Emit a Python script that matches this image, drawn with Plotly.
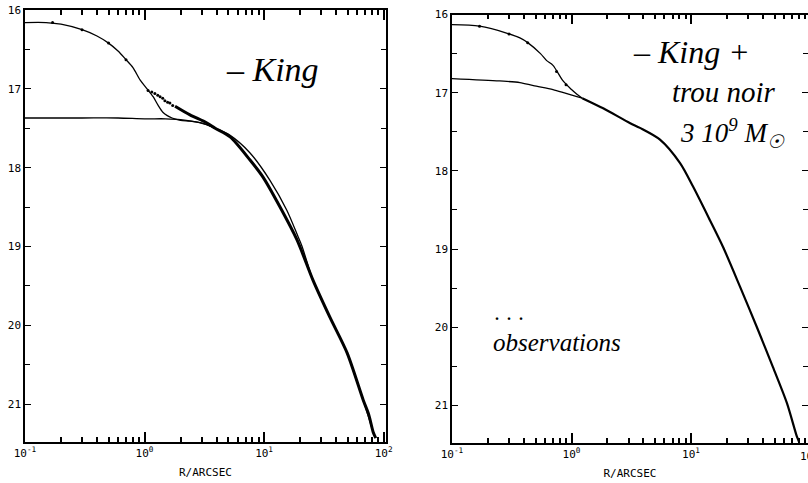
import plotly.graph_objects as go

# ---------------- data ----------------
# Left panel ("King")
left_core_r = [0.1, 0.15, 0.2, 0.3, 0.4, 0.5, 0.6, 0.7, 0.8, 0.92, 1.05, 1.18, 1.3, 1.43, 1.55, 1.7, 2.0, 2.4, 2.9, 3.4, 3.9]
left_core_mu = [16.16, 16.16, 16.18, 16.25, 16.33, 16.42, 16.52, 16.63, 16.73, 16.89, 17.0, 17.1, 17.21, 17.3, 17.34, 17.37, 17.40, 17.41, 17.43, 17.46, 17.5]

left_king_r = [0.1, 0.3, 0.6, 1.0, 1.5, 2.0, 2.9, 3.9, 5.2, 7.6, 11.2, 15.5, 19.3, 20.8, 25.7, 35.6, 49.5, 67.6, 82]
left_king_mu = [17.37, 17.37, 17.37, 17.38, 17.38, 17.39, 17.43, 17.5, 17.59, 17.81, 18.16, 18.54, 18.88, 19.0, 19.43, 19.9, 20.35, 20.95, 21.36]

left_obs_line_r = [1.8, 2.4, 3.3, 3.9, 5.2, 7.6, 9.8, 13.6, 18.9, 25.7, 35.6, 49.5, 67.6, 75, 82, 86]
left_obs_line_mu = [17.22, 17.33, 17.43, 17.5, 17.61, 17.9, 18.12, 18.5, 18.92, 19.43, 19.9, 20.35, 20.95, 21.13, 21.36, 21.43]

left_obs_dot_r = [0.17, 0.3, 0.5, 0.7, 1.07, 1.15, 1.22, 1.29, 1.35, 1.42, 1.48, 1.56, 1.63, 1.72]
left_obs_dot_mu = [16.16, 16.25, 16.42, 16.63, 17.02, 17.04, 17.06, 17.08, 17.1, 17.12, 17.15, 17.17, 17.18, 17.21]

# Right panel ("King + trou noir 3 10^9 Msun")
right_bh_r = [0.1, 0.17, 0.29, 0.37, 0.43, 0.55, 0.62, 0.7, 0.85, 1.0, 1.11, 1.23]
right_bh_mu = [16.13, 16.15, 16.24, 16.30, 16.36, 16.5, 16.59, 16.65, 16.85, 16.96, 17.02, 17.07]

right_king_r = [0.1, 0.25, 0.37, 0.48, 0.7, 0.9, 1.11, 1.23]
right_king_mu = [16.82, 16.85, 16.87, 16.91, 16.96, 17.01, 17.05, 17.07]

right_common_r = [1.23, 1.84, 3.1, 3.74, 5.5, 8.1, 10.4, 14.4, 18.5, 25.7, 35.6, 48.5, 63.5, 77, 80]
right_common_mu = [17.07, 17.2, 17.39, 17.45, 17.6, 17.9, 18.2, 18.63, 18.97, 19.48, 20.0, 20.51, 20.97, 21.4, 21.46]

right_obs_dot_r = [0.17, 0.3, 0.43, 0.75, 0.9]
right_obs_dot_mu = [16.15, 16.25, 16.36, 16.73, 16.9]

x_label_alias = {"0.1": "10<sup>-1</sup>", "1": "10<sup>0</sup>", "10": "10<sup>1</sup>", "100": "10<sup>2</sup>"}
y_tickvals = [16, 17, 18, 19, 20, 21]
y_ticktext = ["16", "17", "18", "19", "20", "21"]
y_range = [21.48, 16]

# ---------------- figure ----------------
W, H = 808, 483
fig = go.Figure()

thin = dict(color="black", width=1.3, shape="spline", smoothing=0.8)
thick = dict(color="black", width=3, shape="spline", smoothing=0.8)
medium = dict(color="black", width=2.2, shape="spline", smoothing=0.8)

# left panel
fig.add_trace(go.Scatter(x=left_king_r, y=left_king_mu, mode="lines", line=thin, xaxis="x", yaxis="y"))
fig.add_trace(go.Scatter(x=left_core_r, y=left_core_mu, mode="lines", line=thin, xaxis="x", yaxis="y"))
fig.add_trace(go.Scatter(x=left_obs_line_r, y=left_obs_line_mu, mode="lines", line=thick, xaxis="x", yaxis="y"))
fig.add_trace(go.Scatter(x=left_obs_dot_r, y=left_obs_dot_mu, mode="markers", marker=dict(color="black", size=3), xaxis="x", yaxis="y"))

# right panel
fig.add_trace(go.Scatter(x=right_bh_r, y=right_bh_mu, mode="lines", line=thin, xaxis="x2", yaxis="y2"))
fig.add_trace(go.Scatter(x=right_king_r, y=right_king_mu, mode="lines", line=thin, xaxis="x2", yaxis="y2"))
fig.add_trace(go.Scatter(x=right_common_r, y=right_common_mu, mode="lines", line=medium, xaxis="x2", yaxis="y2"))
fig.add_trace(go.Scatter(x=right_obs_dot_r, y=right_obs_dot_mu, mode="markers", marker=dict(color="black", size=3), xaxis="x2", yaxis="y2"))

tickfont = dict(family="DejaVu Sans Mono", size=11, color="black")

def xaxis(domain, rng, anchor):
    return dict(
        type="log", domain=domain, range=rng, anchor=anchor,
        showline=True, linecolor="black", linewidth=1.5, mirror="ticks",
        ticks="inside", ticklen=10, tickwidth=2, tickcolor="black",
        tickmode="linear", tick0=0, dtick=1, labelalias=x_label_alias, tickfont=tickfont,
        minor=dict(ticks="inside", ticklen=5, tickwidth=1.5, tickcolor="black", dtick="D1", showgrid=False),
        showgrid=False, zeroline=False, automargin=False,
        title=dict(text="R/ARCSEC", font=dict(family="DejaVu Sans Mono", size=11, color="black"), standoff=9),
    )

def yaxis(domain, anchor):
    return dict(
        domain=domain, range=y_range, anchor=anchor,
        showline=True, linecolor="black", linewidth=1.5, mirror="ticks",
        ticks="inside", ticklen=6, tickwidth=1.3, tickcolor="black",
        tickvals=y_tickvals, ticktext=y_ticktext, tickfont=tickfont,
        minor=dict(ticks="inside", ticklen=5, tickwidth=1, tickcolor="black", dtick=0.5, showgrid=False),
        showgrid=False, zeroline=False, automargin=False,
    )

xd1, xr1 = [25 / W, 386 / W], [-1, 2.02]
xd2, xr2 = [452 / W, 1.0], [-1, 1.979]

fig.update_layout(
    width=W, height=H,
    margin=dict(l=0, r=0, t=0, b=0),
    paper_bgcolor="white", plot_bgcolor="white",
    xaxis=xaxis(xd1, xr1, "y"),
    yaxis=yaxis([(H - 442) / H, (H - 10) / H], "x"),
    xaxis2=xaxis(xd2, xr2, "y2"),
    yaxis2=yaxis([(H - 443) / H, (H - 14.5) / H], "x2"),
    showlegend=False,
)

hand = dict(family="Liberation Serif", color="black")
fig.add_annotation(x=272 / W, y=(H - 70) / H, xref="paper", yref="paper", text="<i>– King</i>",
                   showarrow=False, font=dict(size=34, **hand), xanchor="center", yanchor="middle")
fig.add_annotation(x=691 / W, y=(H - 52) / H, xref="paper", yref="paper", text="<i>– King +</i>",
                   showarrow=False, font=dict(size=32, **hand), xanchor="center", yanchor="middle")
fig.add_annotation(x=724 / W, y=(H - 92) / H, xref="paper", yref="paper", text="<i>trou noir</i>",
                   showarrow=False, font=dict(size=29, **hand), xanchor="center", yanchor="middle")
fig.add_annotation(x=732 / W, y=(H - 133) / H, xref="paper", yref="paper", text="<i>3 10<sup>9</sup> M<sub>☉</sub></i>",
                   showarrow=False, font=dict(size=27, **hand), xanchor="center", yanchor="middle")
fig.add_annotation(x=509 / W, y=(H - 314) / H, xref="paper", yref="paper", text="<b>.  .  .</b>",
                   showarrow=False, font=dict(size=16, **hand), xanchor="center", yanchor="middle")
fig.add_annotation(x=557 / W, y=(H - 342) / H, xref="paper", yref="paper", text="<i>observations</i>",
                   showarrow=False, font=dict(size=25, **hand), xanchor="center", yanchor="middle")
# cut-off 10^2 label at the right border of the right panel
fig.add_annotation(x=809 / W, y=(H - 455) / H, xref="paper", yref="paper", text="10<sup>2</sup>",
                   showarrow=False, font=tickfont, xanchor="center", yanchor="middle")

fig.write_html("out.html", config={"displayModeBar": False},
               post_script="document.body.style.margin='0';document.body.style.overflow='hidden';")
